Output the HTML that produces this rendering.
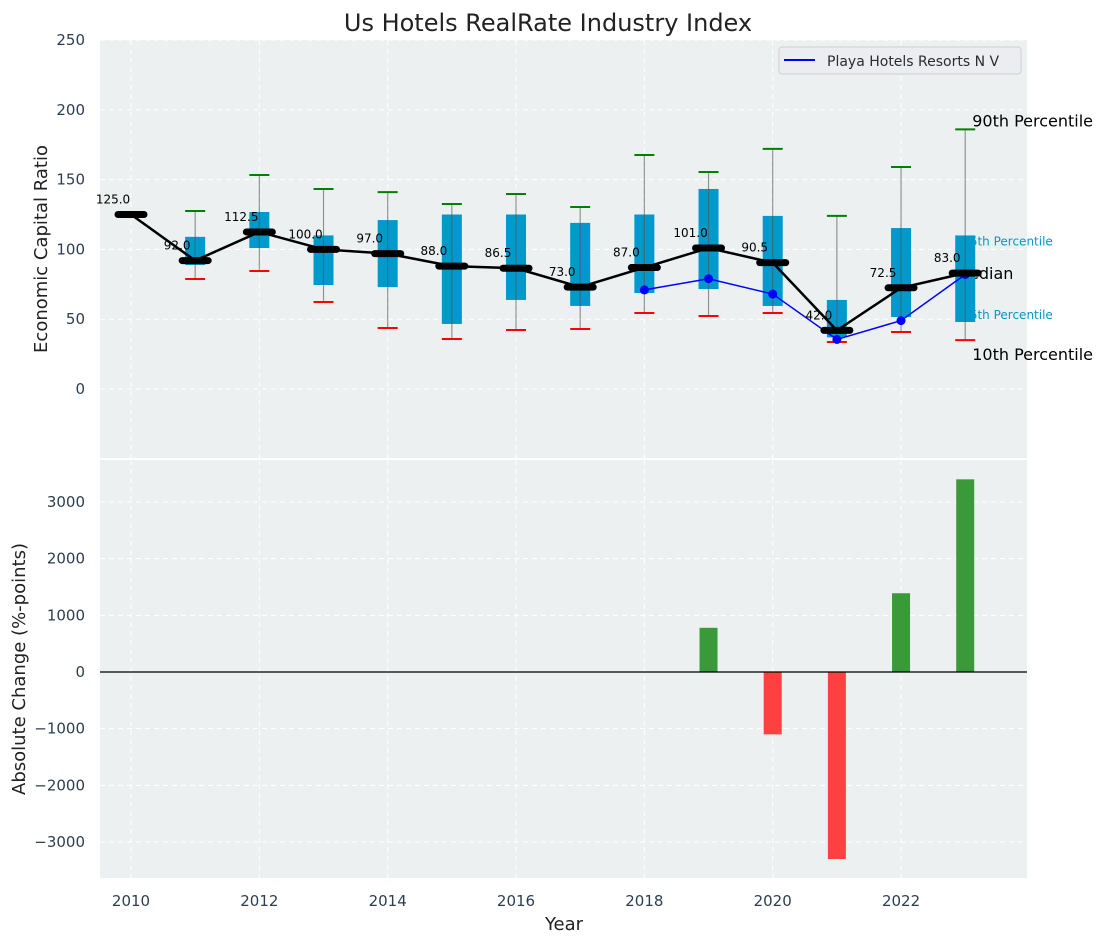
<!DOCTYPE html>
<html><head><meta charset="utf-8"><style>
body{margin:0;background:#fff}
svg text{font-family:"DejaVu Sans","Liberation Sans",sans-serif}
</style></head><body>
<svg id="c" width="1107" height="942" xmlns="http://www.w3.org/2000/svg"></svg>
<script>
const years=[2010,2011,2012,2013,2014,2015,2016,2017,2018,2019,2020,2021,2022,2023];
const medians=[125,92,112.5,100,97,88,86.5,73,87,101,90.5,42,72.5,83];
const q75=[null,109,126.8,110,121,125,125,119,125,143.3,124,63.8,115.3,110];
const q25=[null,88.8,101,74.5,73,46.6,63.8,59.5,68.8,71.6,59.5,37,51.6,48];
const p90=[null,127.5,153.3,143.3,141,132.5,139.7,130.4,167.6,155.4,172,124,159,186];
const p10=[null,78.8,84.5,62.3,43.7,35.8,42.3,43,54.4,52.3,54.4,33.7,40.8,35];
const companyYears=[2018,2019,2020,2021,2022,2023];
const companyVals=[71,79,68,35.5,49,82];
const changeYears=[2019,2020,2021,2022,2023];
const changeVals=[780,-1100,-3300,1390,3400];
const topTicks=[0,50,100,150,200,250];
const botTicks=[-3000,-2000,-1000,0,1000,2000,3000];
const xTicks=[2010,2012,2014,2016,2018,2020,2022];

const L=100,R=1027,T1=40,B1=458,T2=460,B2=878;
const X=v=>131+(v-2010)*64.17;
const Y1=v=>389-(v)*(349/250);
const Y2=v=>672-v*(170/3000);
const svg=document.getElementById('c');
const NS='http://www.w3.org/2000/svg';
function el(tag,attrs,name,txt){const e=document.createElementNS(NS,tag);for(const k in attrs)e.setAttribute(k,attrs[k]);


if(txt!==undefined)e.textContent=txt;svg.appendChild(e);return e;}

el('rect',{x:L,y:T1,width:R-L,height:B1-T1,fill:'#ecf0f1'},'top-plot-area');
el('rect',{x:L,y:T2,width:R-L,height:B2-T2,fill:'#ecf0f1'},'bottom-plot-area');
xTicks.forEach(t=>{el('line',{x1:X(t),x2:X(t),y1:T1,y2:B1,stroke:'#fff','stroke-dasharray':'5,4'},'top-x-grid');
el('line',{x1:X(t),x2:X(t),y1:T2,y2:B2,stroke:'#fff','stroke-dasharray':'5,4'},'bottom-x-grid');
el('text',{x:X(t),y:906,'text-anchor':'middle','font-size':15,fill:'#2c3e50'},'x-tick-label',t);});
topTicks.forEach(t=>{el('line',{x1:L,x2:R,y1:Y1(t),y2:Y1(t),stroke:'#fff','stroke-dasharray':'5,4'},'top-y-grid');
el('text',{x:85,y:Y1(t)+5,'text-anchor':'end','font-size':15,fill:'#2c3e50'},'top-y-tick-label',t);});
botTicks.forEach(t=>{el('line',{x1:L,x2:R,y1:Y2(t),y2:Y2(t),stroke:'#fff','stroke-dasharray':'5,4'},'bottom-y-grid');
el('text',{x:85,y:Y2(t)+5,'text-anchor':'end','font-size':15,fill:'#2c3e50'},'bottom-y-tick-label',t<0?'\u2212'+(-t):t);});

const ly=years.length-1, lx=X(years[ly]);
el('text',{x:lx+7,y:Y1(p90[ly])-3,'font-size':16,fill:'#000'},'label-90th','90th Percentile');
el('text',{x:lx-10,y:Y1(medians[ly])+6,'font-size':16,fill:'#000'},'label-median','Median');
el('text',{x:lx+7,y:Y1(p10[ly])+20,'font-size':16,fill:'#000'},'label-10th','10th Percentile');
el('text',{x:lx-3,y:Y1(q75[ly])+10,'font-size':12,fill:'#0099cc'},'label-75th','75th Percentile');
el('text',{x:lx-3,y:Y1(q25[ly])-3,'font-size':12,fill:'#0099cc'},'label-25th','25th Percentile');

years.forEach((yr,i)=>{
 if(q75[i]===null)return;
 const x=X(yr);
 el('rect',{x:x-10,y:Y1(q75[i]),width:20,height:Y1(q25[i])-Y1(q75[i]),fill:'#0099cc'},'iqr-box');
 el('line',{x1:x,x2:x,y1:Y1(p90[i]),y2:Y1(p10[i]),stroke:'#555','stroke-opacity':0.6,'stroke-width':1.2},'whisker');
 el('line',{x1:x-10,x2:x+10,y1:Y1(p90[i]),y2:Y1(p90[i]),stroke:'green','stroke-width':2},'p90-cap');
 el('line',{x1:x-10,x2:x+10,y1:Y1(p10[i]),y2:Y1(p10[i]),stroke:'red','stroke-width':2},'p10-cap');
});
el('polyline',{points:companyYears.map((y,i)=>X(y)+','+Y1(companyVals[i])).join(' '),fill:'none',stroke:'blue','stroke-width':1.5},'company-line');
companyYears.forEach((y,i)=>el('circle',{cx:X(y),cy:Y1(companyVals[i]),r:4.5,fill:'blue'},'company-point'));
el('polyline',{points:years.map((y,i)=>X(y)+','+Y1(medians[i])).join(' '),fill:'none',stroke:'#000','stroke-width':2.5},'median-line');
years.forEach((yr,i)=>{
 el('line',{x1:X(yr)-13,x2:X(yr)+13,y1:Y1(medians[i]),y2:Y1(medians[i]),stroke:'#000','stroke-width':7,'stroke-linecap':'round'},'median-marker');
 el('text',{x:X(yr)-18,y:Y1(medians[i])-11,'text-anchor':'middle','font-size':12,fill:'#000'},'median-value',medians[i].toFixed(1));
});

el('rect',{x:779,y:47,width:242,height:27,rx:3,fill:'#ebedf0',stroke:'#d0d0d0'},'legend-box');
el('line',{x1:784,x2:815,y1:60,y2:60,stroke:'blue','stroke-width':2},'legend-line');
el('text',{x:827,y:66,'font-size':14,fill:'#2c2c2c'},'legend-entry','Playa Hotels Resorts N V');

changeYears.forEach((y,i)=>{const v=changeVals[i];
 el('rect',{x:X(y)-9,y:Math.min(Y2(v),Y2(0)),width:18,height:Math.abs(Y2(v)-Y2(0)),fill:v>=0?'#3a9a3a':'#ff4040'},'change-bar');});
el('line',{x1:L,x2:R,y1:Y2(0),y2:Y2(0),stroke:'#000','stroke-width':1.2},'zero-line');

el('text',{x:548,y:31,'text-anchor':'middle','font-size':24,fill:'#222'},'chart-title','Us Hotels RealRate Industry Index');
el('text',{x:0,y:0,transform:'translate(47,249) rotate(-90)','text-anchor':'middle','font-size':18,fill:'#222'},'top-y-axis-title','Economic Capital Ratio');
el('text',{x:0,y:0,transform:'translate(25,669) rotate(-90)','text-anchor':'middle','font-size':18,fill:'#222'},'bottom-y-axis-title','Absolute Change (%-points)');
el('text',{x:564,y:930,'text-anchor':'middle','font-size':18,fill:'#222'},'x-axis-title','Year');
</script>
</body></html>
